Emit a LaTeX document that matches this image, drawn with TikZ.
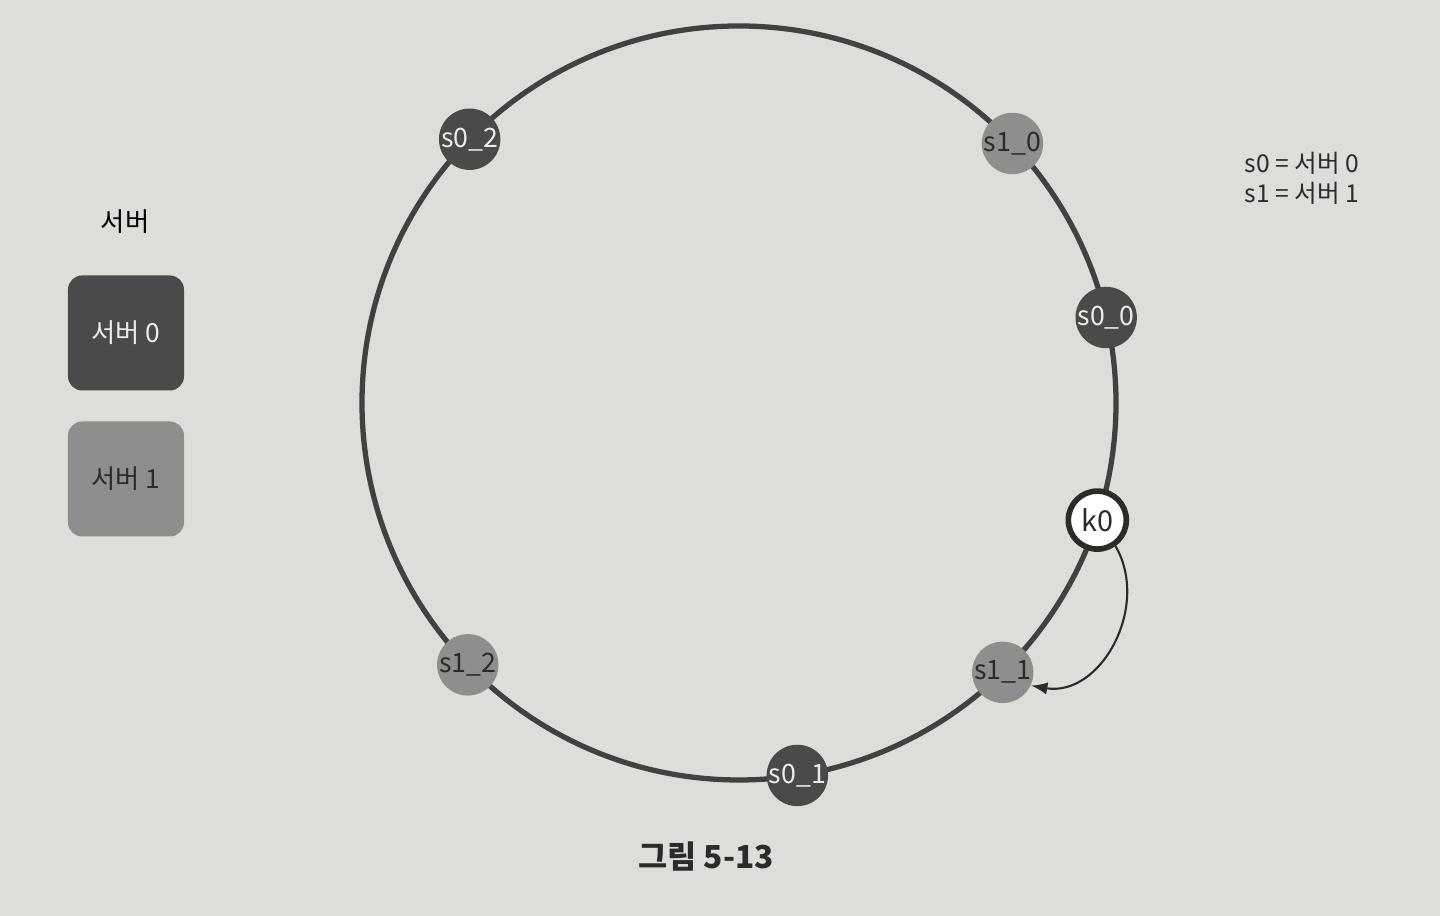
\documentclass[tikz,border=0pt]{standalone}
\usepackage{fontspec}
\setmainfont{Noto Sans CJK KR}
\usepackage{tikz}

\definecolor{page}{HTML}{DDDDDA}
\definecolor{ringgray}{HTML}{414141}
\definecolor{darksrv}{HTML}{4A4A4A}
\definecolor{lightsrv}{HTML}{8E8E8E}
\definecolor{inkdark}{HTML}{2B2B2B}

\tikzset{
  vnode/.style={circle, minimum size=0.6cm, inner sep=0pt, font=\fontsize{7.6}{9}\selectfont},
  srvzero/.style={vnode, fill=darksrv, text=white!92!black},
  srvone/.style={vnode, fill=lightsrv, text=inkdark},
  keynode/.style={vnode, fill=white, draw=inkdark, line width=1.6pt, minimum size=0.58cm, text=inkdark, font=\fontsize{8.2}{10}\selectfont},
  legbox/.style={rounded corners=4pt, minimum width=1.16cm, minimum height=1.15cm, font=\fontsize{7.5}{9}\selectfont}
}

\begin{document}
\begin{tikzpicture}
    \fill[page] (0,0) rectangle (14.4,9.16);
    \useasboundingbox (0,0) rectangle (14.4,9.16);

    % legend
    \node (legtitle) at (1.25,6.94) {\fontsize{7.5}{9}\selectfont 서버};
    \node[legbox, fill=darksrv, text=white!92!black] (box0) at (1.26,5.83) {서버 0};
    \node[legbox, fill=lightsrv, text=inkdark] (box1) at (1.26,4.37) {서버 1};
    \node[align=left, font=\fontsize{7}{8.5}\selectfont, text=inkdark] (names) at (13.02,7.38) {s0 = 서버 0\\s1 = 서버 1};

    % ring
    \begin{scope}[shift={(7.39,5.13)}]
    \draw[ringgray, line width=1.5pt] (0,0) circle (3.77);
    \node[srvzero] (s02) at (135.6:3.77) {s0\_2};
    \node[srvone] (s10) at (43.5:3.77) {s1\_0};
    \node[srvzero] (s00) at (13.1:3.77) {s0\_0};
    \node[keynode] (k0) at (-18.1:3.77) {k0};
    \node[srvone] (s11) at (-45.6:3.77) {s1\_1};
    \node[srvzero] (s01) at (-81.1:3.77) {s0\_1};
    \node[srvone] (s12) at (-136:3.77) {s1\_2};
    \end{scope}

    \draw[->, >=latex, inkdark, line width=0.6pt] (k0.-55) to[out=-60, in=-10, looseness=1.1] (s11.-25);

    \node[font=\fontsize{9}{11}\selectfont\bfseries, text=inkdark] (caption) at (7.06,0.59) {그림 5-13};
\end{tikzpicture}
\end{document}
